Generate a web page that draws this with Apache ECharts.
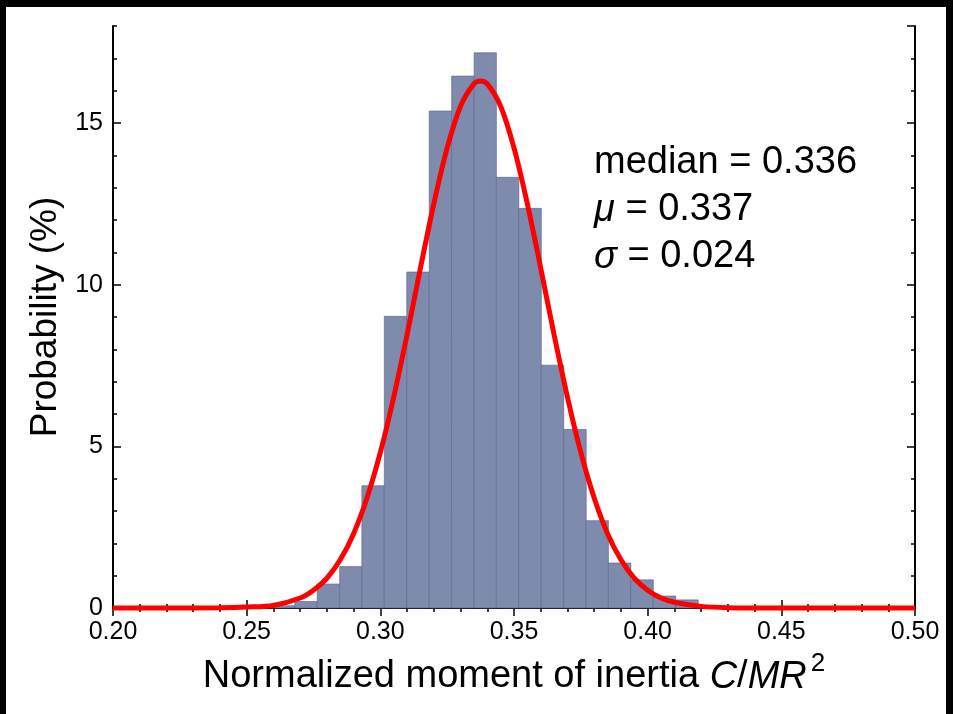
<!DOCTYPE html>
<html>
<head>
<meta charset="utf-8">
<script src="https://cdn.jsdelivr.net/npm/echarts@6/dist/echarts.min.js"></script>
<style>
html,body{margin:0;padding:0;background:#fff;}
#chart{width:953px;height:714px;}
</style>
</head>
<body>
<div id="chart"></div>
<script>
// Histogram bin edges (C/MR^2) and bar heights (%)
var binEdges = [0.2596, 0.2680, 0.2764, 0.2848, 0.2931, 0.3015, 0.3099, 0.3183, 0.3267, 0.3351,
                0.3434, 0.3518, 0.3602, 0.3686, 0.3770, 0.3853, 0.3937, 0.4021, 0.4105, 0.4189];
var binValues = [0.07, 0.20, 0.74, 1.28, 3.78, 9.02, 10.39, 15.37, 16.45, 17.17,
                 13.32, 12.36, 7.51, 5.52, 2.70, 1.39, 0.87, 0.37, 0.25];

// Fitted curve
var curveX = [0.20, 0.22, 0.24, 0.25, 0.26, 0.27, 0.275, 0.28, 0.285, 0.29, 0.295, 0.30, 0.305, 0.31,
              0.315, 0.32, 0.325, 0.33, 0.335, 0.3375, 0.34, 0.345, 0.35, 0.355, 0.36, 0.365, 0.37,
              0.375, 0.38, 0.385, 0.39, 0.395, 0.40, 0.405, 0.41, 0.42, 0.43, 0.45, 0.50];
var curveY = [0.00, 0.00, 0.01, 0.03, 0.08, 0.31, 0.55, 0.92, 1.49, 2.30, 3.40, 4.81, 6.52, 8.45,
              10.51, 12.50, 14.23, 15.52, 16.21, 16.30, 16.21, 15.52, 14.23, 12.50, 10.51, 8.45, 6.52,
              4.81, 3.40, 2.30, 1.49, 0.92, 0.55, 0.31, 0.18, 0.05, 0.01, 0.00, 0.00];

var xTickLabels = ['0.20', '0.25', '0.30', '0.35', '0.40', '0.45', '0.50'];
var yTickLabels = ['0', '5', '10', '15'];

var statLines = [
  {label: 'median', italic: false, value: '0.336'},
  {label: 'μ', italic: true, value: '0.337'},
  {label: 'σ', italic: true, value: '0.024'}
];

var FONT = '"Liberation Sans", Arial, Helvetica, sans-serif';

var barData = binValues.map(function (v, i) { return [binEdges[i], binEdges[i + 1], v]; });
var lineData = curveX.map(function (x, i) { return [x, curveY[i]]; });

var chart = echarts.init(document.getElementById('chart'), null, {renderer: 'canvas'});

function xLabel(v) {
  var idx = Math.round((v - 0.2) / 0.05);
  return xTickLabels[idx] !== undefined ? xTickLabels[idx] : '';
}
function yLabel(v) {
  var idx = Math.round(v / 5);
  return (Math.abs(v - idx * 5) < 1e-6 && yTickLabels[idx] !== undefined) ? yTickLabels[idx] : '';
}

var axisLineStyle = {show: true, lineStyle: {color: '#000', width: 2}};
var gridRect = {left: 113, right: 38, top: 26, bottom: 106};

var option = {
  backgroundColor: '#fff',
  animation: false,
  grid: {left: gridRect.left, right: gridRect.right, top: gridRect.top, bottom: gridRect.bottom, containLabel: false},
  xAxis: [
    {
      type: 'value', min: 0.2, max: 0.5, interval: 0.05, position: 'bottom',
      axisLine: axisLineStyle,
      axisTick: {show: true, inside: true, length: 8, lineStyle: {color: '#000', width: 1.5}},
      minorTick: {show: true, splitNumber: 5, length: 4, lineStyle: {color: '#000', width: 1.5}},
      splitLine: {show: false}, minorSplitLine: {show: false},
      axisLabel: {formatter: xLabel, color: '#000', fontSize: 25, fontFamily: FONT, margin: 12},
      name: '{n|Normalized moment of inertia }{i|C}{n|/}{i|MR}{s|2}',
      nameLocation: 'middle', nameGap: 43,
      nameTextStyle: {
        color: '#000', fontFamily: FONT, fontSize: 38,
        rich: {
          n: {fontSize: 38, fontFamily: FONT, color: '#000'},
          i: {fontSize: 38, fontFamily: FONT, fontStyle: 'italic', color: '#000'},
          s: {fontSize: 26, fontFamily: FONT, color: '#000', padding: [0, 0, 26, 4]}
        }
      }
    },
    {
      type: 'value', min: 0.2, max: 0.5, interval: 0.05, position: 'top',
      axisLine: axisLineStyle,
      axisTick: {show: true, inside: true, length: 8, lineStyle: {color: '#000', width: 1.5}},
      minorTick: {show: true, splitNumber: 5, length: 4, lineStyle: {color: '#000', width: 1.5}},
      splitLine: {show: false}, minorSplitLine: {show: false},
      axisLabel: {show: false}
    }
  ],
  yAxis: [
    {
      type: 'value', min: 0, max: 18, interval: 5, position: 'left',
      axisLine: axisLineStyle,
      axisTick: {show: true, inside: true, length: 8, lineStyle: {color: '#000', width: 1.5}},
      splitLine: {show: false},
      axisLabel: {formatter: yLabel, color: '#000', fontSize: 25, fontFamily: FONT, margin: 10, showMaxLabel: false},
      name: 'Probability (%)', nameLocation: 'middle', nameGap: 44, nameRotate: 90,
      nameTextStyle: {color: '#000', fontSize: 37, fontFamily: FONT}
    },
    {
      type: 'value', min: 0, max: 18, interval: 1, position: 'left',
      axisLine: {show: false},
      axisTick: {show: true, inside: true, length: 4, lineStyle: {color: '#000', width: 1.5}},
      splitLine: {show: false}, axisLabel: {show: false}
    },
    {
      type: 'value', min: 0, max: 18, interval: 5, position: 'right',
      axisLine: axisLineStyle,
      axisTick: {show: true, inside: true, length: 8, lineStyle: {color: '#000', width: 1.5}},
      splitLine: {show: false}, axisLabel: {show: false}
    },
    {
      type: 'value', min: 0, max: 18, interval: 1, position: 'right',
      axisLine: {show: false},
      axisTick: {show: true, inside: true, length: 4, lineStyle: {color: '#000', width: 1.5}},
      splitLine: {show: false}, axisLabel: {show: false}
    }
  ],
  series: [
    {
      type: 'custom', xAxisIndex: 0, yAxisIndex: 0, z: 2,
      data: barData,
      encode: {x: [0, 1], y: 2},
      renderItem: function (params, api) {
        var p0 = api.coord([api.value(0), api.value(2)]);
        var p1 = api.coord([api.value(1), 0]);
        return {
          type: 'rect',
          shape: {x: p0[0], y: p0[1], width: p1[0] - p0[0], height: p1[1] - p0[1]},
          style: {fill: '#7e8bad', stroke: '#5d6b97', lineWidth: 0.7}
        };
      }
    },
    {
      type: 'line', xAxisIndex: 0, yAxisIndex: 0, z: 3,
      data: lineData, smooth: 0.3, showSymbol: false, symbol: 'none', clip: false,
      lineStyle: {color: '#ff0000', width: 5}
    }
  ],
  graphic: [
    {type: 'rect', shape: {x: 0, y: 0, width: 953, height: 7}, style: {fill: '#000'}, z: 100},
    {type: 'rect', shape: {x: 0, y: 0, width: 6, height: 714}, style: {fill: '#000'}, z: 100},
    {type: 'rect', shape: {x: 946, y: 0, width: 7, height: 714}, style: {fill: '#000'}, z: 100}
  ].concat(statLines.map(function (s, i) {
    var lbl = s.italic ? '{it|' + s.label + '}' : '{n|' + s.label + '}';
    return {
      type: 'text', left: 594, top: 144 + i * 47, z: 50,
      style: {
        text: lbl + '{n| = ' + s.value + '}',
        fontSize: 38, fontFamily: FONT, fill: '#000',
        rich: {
          n: {fontSize: 38, fontFamily: FONT, fill: '#000'},
          it: {fontSize: 38, fontFamily: FONT, fontStyle: 'italic', fill: '#000'}
        }
      }
    };
  }))
};

chart.setOption(option);
</script>
</body>
</html>
